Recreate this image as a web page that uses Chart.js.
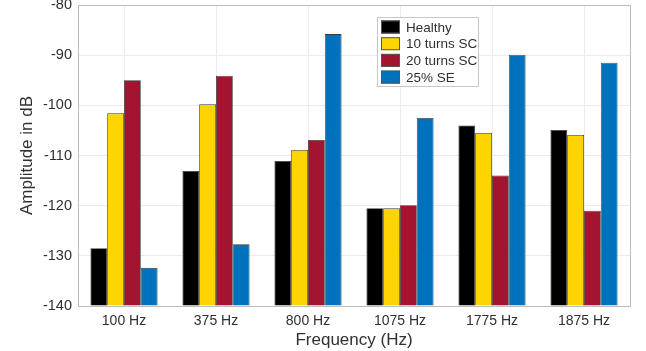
<!DOCTYPE html>
<html>
<head>
<meta charset="utf-8">
<script src="https://cdn.jsdelivr.net/npm/chart.js@4.4.1/dist/chart.umd.min.js"></script>
<style>
  html, body { margin: 0; padding: 0; background: #fff; }
  #wrap { width: 646px; height: 351px; }
</style>
</head>
<body>
<div id="wrap"><canvas id="graph"></canvas></div>
<script>
const frequencies = ['100 Hz', '375 Hz', '800 Hz', '1075 Hz', '1775 Hz', '1875 Hz'];
const healthy = [-128.5, -113.1, -111.1, -120.5, -104.0, -104.9];
const turns10 = [-101.6, -99.8, -108.9, -120.5, -105.5, -105.9];
const turns20 = [-95.0, -94.1, -106.9, -119.9, -114.0, -121.0];
const se25 = [-132.4, -127.7, -85.8, -102.5, -89.9, -91.5];
const seriesNames = ['Healthy', '10 turns SC', '20 turns SC', '25% SE'];
const seriesColors = ['#000000', '#FFD500', '#A2142F', '#0072BD'];
const yTicks = [-80, -90, -100, -110, -120, -130, -140];

const textColor = '#303030';
const fontFamily = '"Liberation Sans", Arial, sans-serif';

// box round plot area + legend inside it
const boxAndLegend = {
  id: 'boxAndLegend',
  afterDraw(chart) {
    const ctx = chart.ctx;
    const a = chart.chartArea;
    ctx.save();
    ctx.strokeStyle = '#bdbdbd';
    ctx.lineWidth = 1;
    ctx.strokeRect(Math.round(a.left) + 0.5, Math.round(a.top) + 0.5,
      Math.round(a.right - a.left), Math.round(a.bottom - a.top));

    // legend
    const lx = 377, ly = 17, lw = 101, lh = 69;
    ctx.fillStyle = '#fff';
    ctx.fillRect(lx, ly, lw, lh);
    ctx.strokeStyle = '#c8c8c8';
    ctx.strokeRect(lx + 0.5, ly + 0.5, lw, lh);
    ctx.font = '13.5px ' + fontFamily;
    ctx.textBaseline = 'middle';
    ctx.textAlign = 'left';
    seriesNames.forEach((name, i) => {
      const cy = 27 + i * 16.7;
      ctx.fillStyle = seriesColors[i];
      ctx.fillRect(381, cy - 6.5, 19, 13);
      ctx.strokeStyle = '#555';
      ctx.strokeRect(381.5, cy - 6, 18, 12);
      ctx.fillStyle = textColor;
      ctx.fillText(name, 406, cy + 1);
    });
    ctx.restore();
  }
};

const datasets = [healthy, turns10, turns20, se25].map((vals, i) => ({
  label: seriesNames[i],
  data: vals,
  base: -140,
  backgroundColor: seriesColors[i],
  borderColor: '#3a3a3a',
  borderWidth: 0.8,
  barPercentage: 1.0,
  categoryPercentage: 0.73
}));

new Chart(document.getElementById('graph'), {
  type: 'bar',
  data: { labels: frequencies, datasets: datasets },
  options: {
    responsive: true,
    maintainAspectRatio: false,
    animation: false,
    layout: { padding: { top: 5, right: 16, left: 17, bottom: 0 } },
    plugins: {
      legend: { display: false },
      tooltip: { enabled: false }
    },
    scales: {
      x: {
        grid: { offset: false, color: '#ebebeb', drawTicks: false },
        border: { display: false },
        ticks: { color: textColor, font: { family: fontFamily, size: 14 }, padding: 7, maxRotation: 0 },
        title: { display: true, text: 'Frequency (Hz)', color: textColor, font: { family: fontFamily, size: 17 }, padding: { top: 0, bottom: 0 } },
        afterFit(scale) { scale.height = 45; }
      },
      y: {
        min: -140,
        max: -80,
        afterBuildTicks(scale) { scale.ticks = yTicks.map(v => ({ value: v })); },
        grid: { color: '#ebebeb', drawTicks: false },
        border: { display: false },
        ticks: { color: textColor, font: { family: fontFamily, size: 14.5 }, padding: 6 },
        title: { display: true, text: 'Amplitude in dB', color: textColor, font: { family: fontFamily, size: 17 }, padding: { top: 0, bottom: 0 } },
        afterFit(scale) {
          scale.width = 61;
          scale.paddingTop = 0;
          scale.paddingBottom = 0;
        }
      }
    }
  },
  plugins: [boxAndLegend]
});
</script>
</body>
</html>
